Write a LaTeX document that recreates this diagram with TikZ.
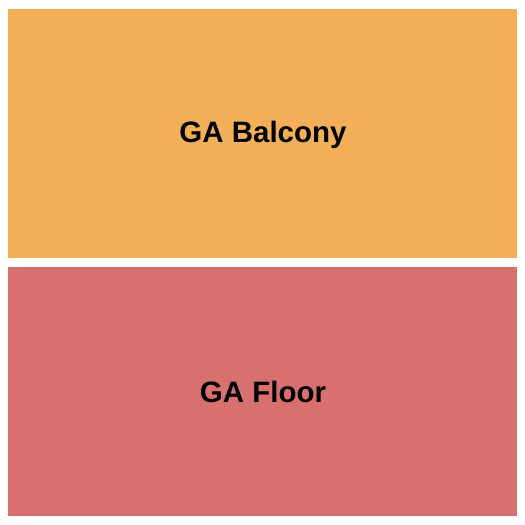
\documentclass[tikz,border=0pt]{standalone}
\usepackage{fontspec}
\setmainfont{Liberation Sans}
\definecolor{balc}{HTML}{F4AF59}
\definecolor{floorc}{HTML}{D8706F}
\begin{document}
\begin{tikzpicture}[x=1pt,y=1pt,
  lbl/.style={font=\fontsize{29.5}{34}\selectfont\bfseries, text=black, anchor=base}]
\useasboundingbox (0,0) rectangle (525,525);
\fill[white] (0,0) rectangle (525,525);
\fill[balc] (8,267) rectangle (517,516);
\fill[floorc] (8,9) rectangle (517,258);
\node[lbl] (balcony) at (263,382) {GA Balcony};
\node[lbl] (floor) at (263,122) {GA Floor};
\end{tikzpicture}
\end{document}
